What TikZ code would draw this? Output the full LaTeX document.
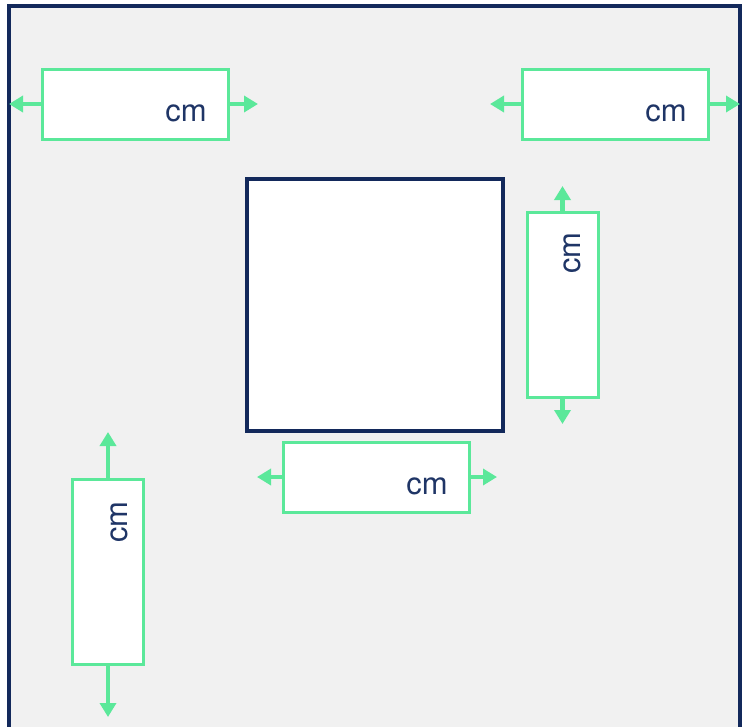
\documentclass[tikz,border=0pt]{standalone}
\usepackage{fontspec}
\setmainfont{TeX Gyre Heros}
\usetikzlibrary{arrows.meta}
\definecolor{navy}{HTML}{13295B}
\definecolor{txtnavy}{HTML}{1F3566}
\definecolor{mint}{HTML}{5BE89A}
\definecolor{bg}{HTML}{F1F1F1}
\tikzset{
  frame/.style={draw=navy,line width=4pt,fill=bg},
  centerbox/.style={draw=navy,line width=3.5pt,fill=white,inner sep=0pt,minimum width=256pt,minimum height=252pt},
  hbox/.style={draw=mint,line width=3pt,fill=white,inner sep=0pt,minimum width=186pt,minimum height=70pt},
  vbox/.style={draw=mint,line width=3pt,fill=white,inner sep=0pt,minimum width=71pt,minimum height=185pt},
  dimarrow/.style={draw=mint,line width=4.5pt,-{Triangle[length=14pt,width=16pt]}},
  unit/.style={text=txtnavy,font=\fontsize{31}{33}\selectfont,inner sep=0pt},
}
\begin{document}
\begin{tikzpicture}[x=1pt,y=-1pt]
\useasboundingbox (0,0) rectangle (742,726);
\begin{scope}
\clip (0,0) rectangle (742,726);
\draw[frame] (9,6) rectangle (740,740);
\end{scope}
\node[centerbox] (sq) at (375,305) {};
% box A
\node[hbox] (a) at (135,104) {};
\node[unit] (at) at (186,113) {cm};
\coordinate (al) at (9,104);
\coordinate (ar) at (258,104);
\draw[dimarrow] (a.west) -- (al);
\draw[dimarrow] (a.east) -- (ar);
% box B
\node[hbox] (b) at (615.5,104) {};
\node[unit] (bt) at (666,113) {cm};
\coordinate (bl) at (490,104);
\coordinate (br) at (740,104);
\draw[dimarrow] (b.west) -- (bl);
\draw[dimarrow] (b.east) -- (br);
% box C
\node[vbox] (c) at (562.5,304.5) {};
\node[unit,rotate=90] (ct) at (572,253) {cm};
\coordinate (cu) at (562.5,186);
\coordinate (cd) at (562.5,424);
\draw[dimarrow] (c.north) -- (cu);
\draw[dimarrow] (c.south) -- (cd);
% box D
\node[vbox] (d) at (108,572) {};
\node[unit,rotate=90] (dt) at (119,522) {cm};
\coordinate (du) at (108,432);
\coordinate (dd) at (108,717);
\draw[dimarrow] (d.north) -- (du);
\draw[dimarrow] (d.south) -- (dd);
% box E
\node[hbox] (e) at (376.5,477) {};
\node[unit] (et) at (427,486) {cm};
\coordinate (el) at (257,477);
\coordinate (er) at (497,477);
\draw[dimarrow] (e.west) -- (el);
\draw[dimarrow] (e.east) -- (er);
\end{tikzpicture}
\end{document}
